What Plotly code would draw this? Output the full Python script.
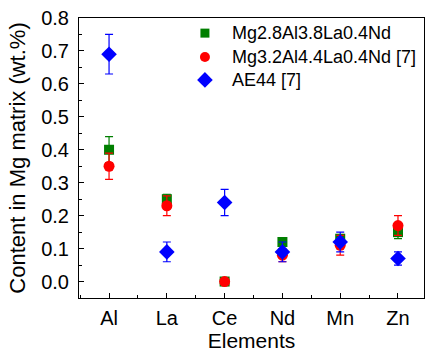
import plotly.graph_objects as go

elements = ["Al", "La", "Ce", "Nd", "Mn", "Zn"]
s1_name = "Mg2.8Al3.8La0.4Nd"
s1_vals = [0.40, 0.25, 0.00, 0.12, 0.13, 0.15]
s1_err = [0.04, 0.015, 0.00, 0.01, 0.01, 0.02]
s2_name = "Mg3.2Al4.4La0.4Nd [7]"
s2_vals = [0.35, 0.23, 0.00, 0.08, 0.11, 0.17]
s2_err = [0.04, 0.03, 0.00, 0.02, 0.03, 0.03]
s3_name = "AE44 [7]"
s3_vals = [0.69, 0.09, 0.24, 0.09, 0.12, 0.07]
s3_err = [0.06, 0.03, 0.04, 0.03, 0.03, 0.02]

FONT = "Liberation Sans, Arial"
x = list(range(len(elements)))
series = [
    (s1_name, s1_vals, s1_err, "#007f00", "square", 10, 9),
    (s2_name, s2_vals, s2_err, "#ff0000", "circle", 11, 10),
    (s3_name, s3_vals, s3_err, "#0000ff", "diamond", 12, 12),
]
fig = go.Figure()
for name, vals, err, color, sym, size, _ in series:
    fig.add_trace(go.Scatter(
        x=x, y=vals, mode="markers", name=name, showlegend=False,
        marker=dict(color=color, symbol=sym, size=size),
        error_y=dict(type="data", array=err, visible=True, color=color, thickness=1.2, width=4),
    ))

# manual legend (compact row spacing) on an overlay axis in 0..1 plot units
leg_x_marker = 0.365
leg_x_text = 0.438
leg_rows = [0.946, 0.861, 0.779]
for (name, _, _, color, sym, _, lsize), ly in zip(series, leg_rows):
    fig.add_trace(go.Scatter(
        x=[leg_x_marker], y=[ly], mode="markers", name=name, showlegend=False,
        xaxis="x2", yaxis="y2", hoverinfo="skip",
        marker=dict(color=color, symbol=sym, size=lsize),
    ))
    fig.add_annotation(x=leg_x_text, y=ly, xref="x2", yref="y2", text=name, showarrow=False,
                       xanchor="left", yanchor="middle",
                       font=dict(family=FONT, size=18, color="black"))

axis_common = dict(showline=True, linecolor="black", linewidth=1, mirror=True,
                   ticks="inside", ticklen=5, tickcolor="black", showgrid=False, zeroline=False,
                   automargin=False,
                   tickfont=dict(family=FONT, size=20, color="black"))
fig.update_xaxes(range=[-0.52, 5.45], tickmode="array", tickvals=x, ticktext=elements,
                 minor=dict(ticks="inside", ticklen=3, tickvals=[i + 0.5 for i in range(-1, 6)], tickcolor="black"),
                 ticklabelstandoff=2,
                 title=dict(text="Elements", font=dict(family=FONT, size=21, color="black"), standoff=6),
                 **axis_common)
fig.update_yaxes(range=[-0.05, 0.8], tickmode="array", tickvals=[i / 10 for i in range(9)],
                 ticktext=[f"{i/10:.1f}" for i in range(9)],
                 minor=dict(ticks="inside", ticklen=3, dtick=0.05, tick0=0.05, tickcolor="black"),
                 ticklabelstandoff=5,
                 title=dict(text="Content in Mg matrix (wt.%)", font=dict(family=FONT, size=22, color="black"), standoff=9),
                 **axis_common)
fig.update_layout(
    width=425, height=352, margin=dict(l=79, r=1, t=18, b=54),
    plot_bgcolor="white", paper_bgcolor="white",
    xaxis2=dict(overlaying="x", range=[0, 1], visible=False, fixedrange=True),
    yaxis2=dict(overlaying="y", range=[0, 1], visible=False, fixedrange=True),
    showlegend=False,
)
fig.write_html("out.html")
